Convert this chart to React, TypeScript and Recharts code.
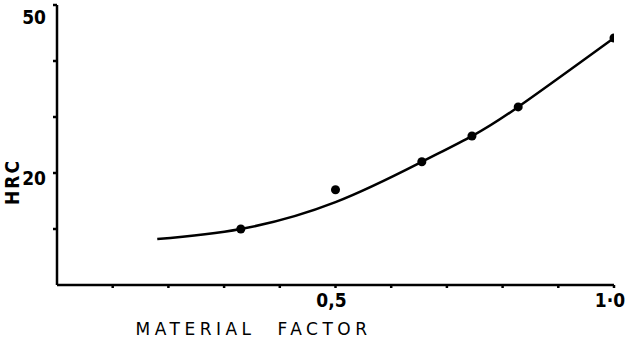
import React from 'react';
import { ComposedChart, Line, Scatter, XAxis, YAxis, Label } from 'recharts';

// fitted curve
const curveX = [0.18, 0.33, 0.5, 0.655, 0.745, 0.828, 1.0];
const curveY = [8.2, 10.0, 14.8, 22.0, 26.6, 31.8, 44.1];

// measured points
const pointX = [0.33, 0.5, 0.655, 0.745, 0.828, 1.0];
const pointY = [10.0, 17.0, 22.0, 26.6, 31.8, 44.1];

const xTicks = [0.1, 0.2, 0.3, 0.4, 0.5, 0.6, 0.7, 0.8, 0.9, 1.0];
const yTicks = [10, 20, 30, 40, 50];
const xTickLabels: Record<string, string> = { '0.5': '0,5', '1': '1·0' };
const yTickLabels: Record<string, string> = { '20': '20', '50': '50' };

const curve = curveX.map((x, i) => ({ x, y: curveY[i] }));
const points = pointX.map((x, i) => ({ x, y: pointY[i] }));

const FONT = '"DejaVu Sans Condensed", "DejaVu Sans", sans-serif';

const XTick = (props: any) => {
  const { x, payload } = props;
  const text = xTickLabels[String(payload.value)];
  if (!text) return null;
  return (
    <text x={x - 4} y={307} textAnchor="middle" fontFamily={FONT} fontSize={19} fontWeight="bold" fill="#000">
      {text}
    </text>
  );
};

const YTick = (props: any) => {
  const { x, y, payload } = props;
  const text = yTickLabels[String(payload.value)];
  if (!text) return null;
  const shift = payload.value === 50 ? 15 : 12;
  return (
    <text x={x - 5} y={y + shift} textAnchor="end" fontFamily={FONT} fontSize={19} fontWeight="bold" fill="#000">
      {text}
    </text>
  );
};

const HrcLabel = () => (
  <text
    x={19}
    y={182}
    transform="rotate(-90 19 182)"
    textAnchor="middle"
    fontFamily={FONT}
    fontSize={19}
    fontWeight="bold"
    letterSpacing={2}
    fill="#000"
  >
    HRC
  </text>
);

const App: React.FC = () => {
  return (
    <div style={{ position: 'absolute', left: 0, top: 0, background: '#fff' }}>
      <ComposedChart width={626} height={340} margin={{ top: 5, right: 12, bottom: 0, left: 0 }}>
        <XAxis
          dataKey="x"
          type="number"
          domain={[0, 1]}
          ticks={xTicks}
          tick={<XTick />}
          tickSize={3}
          stroke="#000"
          strokeWidth={2.5}
          height={55}
          allowDataOverflow
        >
          <Label
            value="MATERIAL FACTOR"
            position="insideBottom"
            offset={5}
            dx={-82}
            style={{ fontFamily: '"DejaVu Sans", sans-serif', fontSize: 17, fontWeight: 500, letterSpacing: 4.5, wordSpacing: 12, fill: '#000' }}
          />
        </XAxis>
        <YAxis
          dataKey="y"
          type="number"
          domain={[0, 50]}
          ticks={yTicks}
          tick={<YTick />}
          tickSize={4}
          stroke="#000"
          strokeWidth={2.5}
          width={57}
          allowDataOverflow
        >
          <Label content={<HrcLabel />} />
        </YAxis>
        <Line
          data={curve}
          dataKey="y"
          type="natural"
          stroke="#000"
          strokeWidth={2.5}
          dot={false}
          activeDot={false}
          isAnimationActive={false}
        />
        <Scatter data={points} dataKey="y" fill="#000" shape="circle" isAnimationActive={false} />
      </ComposedChart>
    </div>
  );
};

export default App;
